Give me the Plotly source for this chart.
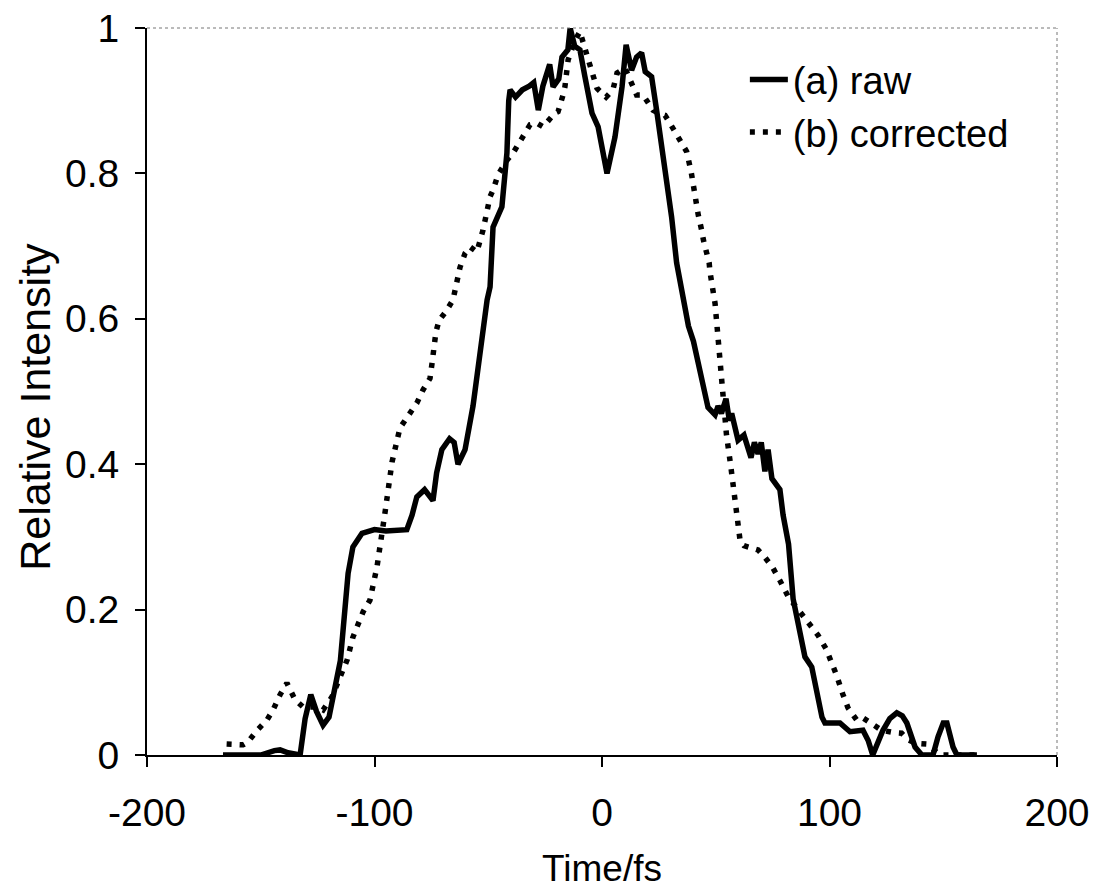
import plotly.graph_objects as go

# ---- data ----
raw_t = [-166.6, -150, -144, -141.5, -138, -132.7, -130.5, -128, -125.5, -122.6, -120,
         -117.5, -115, -111.6, -109.5, -105.5, -100, -95, -90, -85.8, -83.5, -81.4, -78,
         -74.3, -72.7, -70.4, -67, -65, -63.3, -61.5, -60.2, -56.7, -53.6, -50.5, -49.2,
         -47.9, -44, -41.8, -41, -40.4, -38, -35, -32, -30, -28, -26, -23, -21.5, -19,
         -17.6, -15, -14, -12, -9.7, -7.5, -4.4, -1.7, 2.2, 5.7, 8.8, 10.6, 13, 15.2, 17.4,
         19, 21.8, 24, 26.9, 30.6, 32.8, 35.5, 38, 40.2, 42.6, 46.6, 49.7, 51, 52.5, 54.5,
         56, 57, 59.8, 62.4, 65.5, 67, 68.6, 70, 71.6, 73, 74.7, 78.2, 79.6, 82, 84, 87,
         89.2, 92.2, 94.4, 96.7, 98, 104.6, 109, 114.7, 117, 119, 123.5, 126.5, 129.6, 132,
         134, 137.6, 140.6, 145.5, 147.7, 150, 151.6, 154.3, 156, 164.8]
raw_y = [0, 0, 0.006, 0.007, 0.003, 0, 0.05, 0.083, 0.06, 0.041, 0.052,
         0.09, 0.13, 0.25, 0.286, 0.305, 0.31, 0.308, 0.31, 0.31, 0.33, 0.355, 0.365,
         0.35, 0.388, 0.42, 0.435, 0.43, 0.40, 0.41, 0.42, 0.48, 0.557, 0.626, 0.644,
         0.726, 0.754, 0.828, 0.90, 0.915, 0.905, 0.915, 0.92, 0.925, 0.887, 0.92, 0.95, 0.919, 0.93,
         0.96, 0.97, 1.0, 0.975, 0.97, 0.933, 0.883, 0.864, 0.80, 0.85, 0.919, 0.977, 0.942, 0.96, 0.966,
         0.94, 0.933, 0.887, 0.823, 0.74, 0.677, 0.626, 0.59, 0.569, 0.537, 0.478, 0.468, 0.48, 0.47, 0.49,
         0.46, 0.47, 0.433, 0.44, 0.409, 0.43, 0.414, 0.43, 0.39, 0.42, 0.38, 0.365, 0.33, 0.29, 0.215, 0.168,
         0.135, 0.121, 0.089, 0.052, 0.044, 0.044, 0.032, 0.034, 0.02, 0.0, 0.034, 0.05, 0.058, 0.054,
         0.044, 0.011, 0, 0, 0.025, 0.044, 0.044, 0.011, 0, 0]

cor_t = [-165, -157.8, -155.6, -151.6, -147.3, -144.6, -141.5, -138.5, -134.9, -131.4, -125.3,
         -122.6, -118.7, -114.3, -112, -109.5, -105, -102, -98.9, -95.4, -93.6, -92.3, -88.8,
         -84.4, -81.4, -78.7, -75.6, -74.7, -73.8, -73, -71.6, -68.6, -65.5, -63.3, -62.4, -60.2,
         -58, -55, -52.3, -49.2, -47.9, -45.7, -41.8, -39.1, -35.2, -31.6, -28.6, -25.9, -20.7,
         -19.3, -17.1, -16.3, -14.9, -11.9, -9.7, -6.6, -5.7, -2.2, 1.8, 4.8, 6.6, 10.1, 13.2,
         15.2, 18, 22.4, 24.7, 27.7, 31.2, 34.9, 37.2, 39.2, 39.9, 40.9, 42.3, 43.8, 44.6, 47.1,
         47.5, 49.7, 51, 52.3, 54.7, 56.7, 58, 58.9, 59.8, 60.7, 62.4, 66.4, 68.6, 71.6, 75, 78.2,
         81.8, 85, 88.4, 91.7, 94.9, 98.5, 101.4, 103.2, 105.8, 108.1, 112, 114.7, 118.1, 122.9,
         127.9, 131.7, 134.5, 138.3, 142.7, 148.6, 165.3]
cor_y = [0.015, 0.014, 0.018, 0.034, 0.048, 0.062, 0.083, 0.099, 0.076, 0.066, 0.066,
         0.062, 0.08, 0.113, 0.131, 0.162, 0.197, 0.213, 0.259, 0.333, 0.378, 0.403, 0.45,
         0.472, 0.484, 0.502, 0.518, 0.539, 0.564, 0.582, 0.598, 0.61, 0.626, 0.663, 0.671, 0.69,
         0.699, 0.692, 0.722, 0.768, 0.777, 0.798, 0.818, 0.828, 0.85, 0.867, 0.869, 0.864, 0.883,
         0.885, 0.908, 0.919, 0.956, 0.983, 0.995, 0.966, 0.953, 0.917, 0.905, 0.915, 0.938, 0.945, 0.924,
         0.908, 0.908, 0.887, 0.883, 0.88, 0.862, 0.843, 0.83, 0.802, 0.787, 0.768, 0.743, 0.722, 0.708, 0.677,
         0.664, 0.621, 0.572, 0.52, 0.441, 0.395, 0.365, 0.341, 0.316, 0.295, 0.288, 0.285, 0.282, 0.272, 0.258, 0.24,
         0.218, 0.205, 0.192, 0.179, 0.165, 0.146, 0.124, 0.109, 0.084, 0.065, 0.048, 0.051, 0.044, 0.034,
         0.031, 0.03, 0.021, 0.016, 0.015, 0.0, 0.0]

x_ticks = [-200, -100, 0, 100, 200]
x_ticktext = ["-200", "-100", "0", "100", "200"]
y_ticks = [0, 0.2, 0.4, 0.6, 0.8, 1]
y_ticktext = ["0", "0.2", "0.4", "0.6", "0.8", "1"]

FONT = "Liberation Sans, Arial, sans-serif"

fig = go.Figure()
fig.add_trace(go.Scatter(x=raw_t, y=raw_y, mode="lines", name="(a) raw",
                         line=dict(color="black", width=5.5)))
fig.add_trace(go.Scatter(x=cor_t, y=cor_y, mode="lines", name="(b) corrected",
                         line=dict(color="black", width=5.5, dash="5px,8px")))

# page body has an 8px default margin, so the figure is 8px smaller than the window
fig.update_layout(
    width=1091, height=881,
    margin=dict(l=139, r=42, t=20, b=134, autoexpand=False),
    paper_bgcolor="white", plot_bgcolor="white",
    font=dict(family=FONT, color="black", size=38),
    showlegend=True,
    legend=dict(x=0.657, y=0.972, xanchor="left", yanchor="top",
                bgcolor="rgba(0,0,0,0)", font=dict(size=38), itemwidth=38,
                tracegroupgap=0),
    xaxis=dict(range=[-200, 200], tickvals=x_ticks, ticktext=x_ticktext, automargin=False,
               showgrid=False, zeroline=False, showline=True, linecolor="black",
               linewidth=2, ticks="outside", ticklen=10, tickwidth=2, tickcolor="black",
               tickfont=dict(size=39), ticklabelstandoff=12, ticklabeloverflow="allow",
               title=dict(text="Time/fs", font=dict(size=37), standoff=40)),
    yaxis=dict(range=[0, 1], tickvals=y_ticks, ticktext=y_ticktext, automargin=False,
               showgrid=False, zeroline=False, showline=True, linecolor="black",
               linewidth=2, ticks="outside", ticklen=10, tickwidth=2, tickcolor="black",
               tickfont=dict(size=39), ticklabelstandoff=8, ticklabeloverflow="allow"),
    annotations=[
        dict(text="Relative Intensity", textangle=-90, xref="paper", yref="paper",
             x=-0.123, y=0.479, xanchor="center", yanchor="middle", showarrow=False,
             font=dict(size=43)),
    ],
    shapes=[
        dict(type="line", xref="paper", yref="paper", x0=0, x1=1, y0=1, y1=1,
             line=dict(color="#777", width=1, dash="dot")),
        dict(type="line", xref="paper", yref="paper", x0=1, x1=1, y0=0, y1=1,
             line=dict(color="#777", width=1, dash="dot")),
    ],
)

fig.write_html("out.html")
